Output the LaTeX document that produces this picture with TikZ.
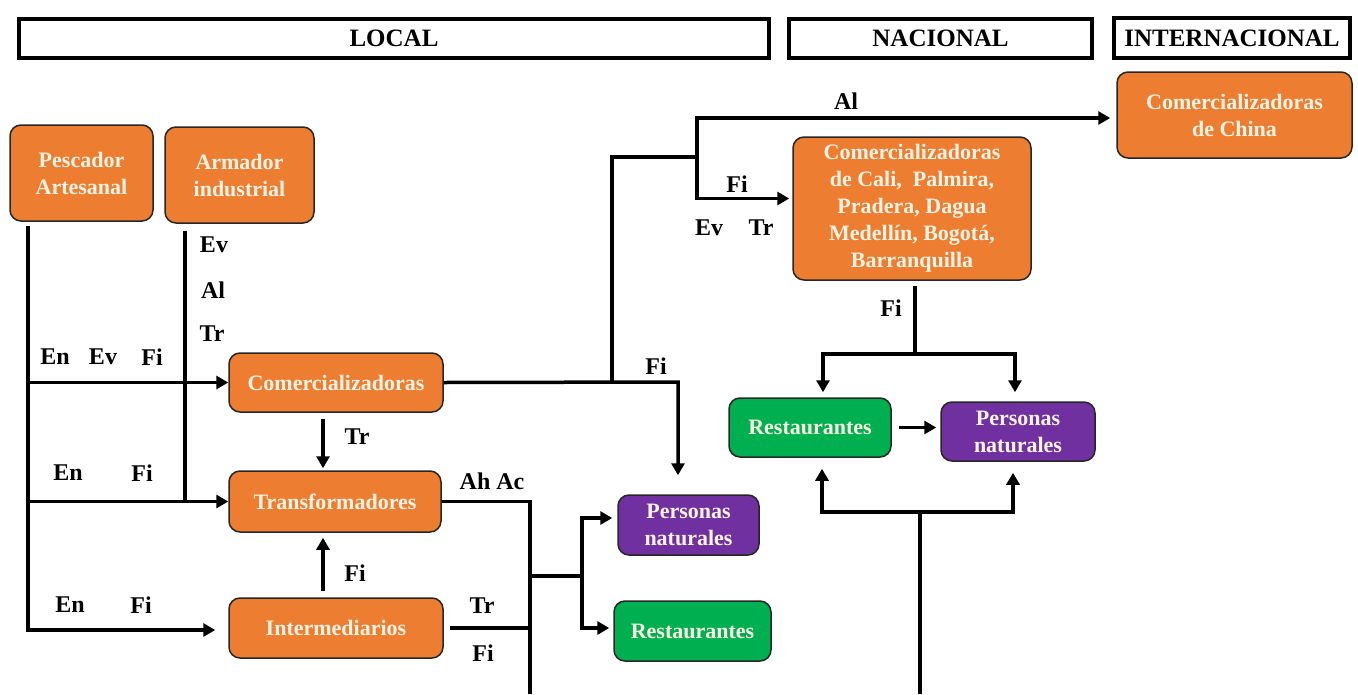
\documentclass[tikz,border=0pt]{standalone}
\usepackage{fontspec}
\setmainfont{Liberation Serif}
\usetikzlibrary{arrows.meta,calc}
\definecolor{org}{HTML}{ED7D31}
\definecolor{pur}{HTML}{7030A0}
\definecolor{grn}{HTML}{00B050}
\definecolor{txt}{HTML}{FBF4E4}
\begin{document}
\begin{tikzpicture}[x=1pt,y=-1pt,
  box/.style={draw=black!85, line width=1.5pt, rounded corners=11pt, text=txt,
    font=\fontsize{22}{27}\selectfont\bfseries, align=center, inner sep=0pt},
  hdr/.style={draw, line width=4pt, font=\fontsize{25}{28}\selectfont\bfseries, inner sep=0pt},
  lbl/.style={font=\fontsize{24}{26}\selectfont\bfseries, inner sep=0pt},
  con/.style={line width=3.5pt},
  arr/.style={con, -{Triangle[length=12pt,width=13pt]}},
]
\useasboundingbox (0,0) rectangle (1358,694);
% headers
\node[hdr, minimum width=750, minimum height=39] (hlocal) at (394,38.5) {LOCAL};
\node[hdr, minimum width=303, minimum height=39] (hnac) at (940.5,38.5) {NACIONAL};
\node[hdr, minimum width=236, minimum height=40] (hint) at (1232,38) {INTERNACIONAL};
% nodes
\node[box, fill=org, minimum width=143, minimum height=96] (pesc) at (81.5,173) {Pescador\\Artesanal};
\node[box, fill=org, minimum width=149, minimum height=96] (arm) at (239.5,175) {Armador\\industrial};
\node[box, fill=org, minimum width=214, minimum height=59] (com) at (336,382.5) {Comercializadoras};
\node[box, fill=org, minimum width=212, minimum height=61] (trans) at (335,501.5) {Transformadores};
\node[box, fill=org, minimum width=214, minimum height=60] (inter) at (336,628) {Intermediarios};
\node[box, fill=pur, minimum width=141, minimum height=60] (perL) at (688.5,525) {Personas\\naturales};
\node[box, fill=grn, minimum width=157, minimum height=60] (restL) at (692.5,631) {Restaurantes};
\node[box, fill=org, minimum width=238, minimum height=143] (cali) at (912,208.5) {Comercializadoras\\de Cali,\ \ Palmira,\\Pradera, Dagua\\Medellín,\ Bogotá,\\Barranquilla};
\node[box, fill=org, minimum width=235, minimum height=86] (china) at (1234.5,115) {Comercializadoras\\de China};
\node[box, fill=grn, minimum width=162, minimum height=59] (restN) at (810,427.5) {Restaurantes};
\node[box, fill=pur, minimum width=154, minimum height=59] (perN) at (1018,431.5) {Personas\\naturales};
% coordinates
\coordinate (pX) at (28,0);
\coordinate (aX) at (185,0);
\coordinate (vX) at (323,0);
\coordinate (jX) at (530,0);
\coordinate (j2) at (530,576);
\coordinate (j3) at (582,576);
\coordinate (bot1) at (530,694);
\coordinate (c1) at (612,382);
\coordinate (c2) at (678,382);
\coordinate (c3) at (697,157);
\coordinate (n1) at (915,354);
\coordinate (n2) at (920,512);
\coordinate (bot2) at (920,694);
% Pescador
\draw[arr] ($(pesc.south -| pX)+(0,4)$) |- ($(inter.west)+(-13,2)$);
\draw[arr] (com.west -| pX) -- (com.west);
\draw[arr] (trans.west -| pX) -- (trans.west);
% Armador
\draw[con] ($(arm.south -| aX)+(0,7)$) -- (trans.west -| aX);
% vertical between boxes
\draw[arr] ($(com.south -| vX)+(0,6)$) -- ($(trans.north -| vX)+(0,-2)$);
\draw[arr] ($(inter.north -| vX)+(0,-6)$) -- ($(trans.south -| vX)+(0,5)$);
% right side local
\draw[con] (trans.east) -- (trans.east -| jX) -- (bot1);
\draw[con] ($(inter.east)+(6,0)$) -- (inter.east -| jX);
\draw[con] (j2) -- (j3);
\draw[arr] (j3) |- ($(perL.west)+(-5,-7)$);
\draw[arr] (j3) |- ($(restL.west)+(-4,-3)$);
% comercializadoras outputs
\draw[arr] (com.east) -- (c2) -- ($(perL.north -| c2)+(0,-19)$);
\draw[con] (c1) |- (c3);
\draw[arr] (c3) |- ($(china.west)+(-6,3)$);
\draw[arr] (c3) |- ($(cali.west)+(-3,-10)$);
% nacional
\draw[con] ($(cali.south -| n1)+(0,5)$) -- (n1);
\draw[arr] (n1) -| ($(restN.north)+(13,-5)$);
\draw[arr] (n1) -| ($(perN.north)+(-3,-9)$);
\draw[arr] ($(restN.east)+(7,0)$) -- ($(restN.east -| perN.west)+(-4,0)$);
\draw[con] (bot2) -- (n2);
\draw[arr] (n2) -| ($(restN.south)+(12,11)$);
\draw[arr] (n2) -| ($(perN.south)+(-5,11)$);
% labels
\node[lbl] (l1) at (55,357) {En};
\node[lbl] (l2) at (103,357) {Ev};
\node[lbl] (l3) at (152,357) {Fi};
\node[lbl] (l4) at (68,473) {En};
\node[lbl] (l5) at (142,473) {Fi};
\node[lbl] (l6) at (70,605) {En};
\node[lbl] (l7) at (141,605) {Fi};
\node[lbl] (l8) at (214,245) {Ev};
\node[lbl] (l9) at (213,290) {Al};
\node[lbl] (l10) at (212,334) {Tr};
\node[lbl] (l11) at (357,437) {Tr};
\node[lbl] (l12) at (355,573) {Fi};
\node[lbl] (l13) at (492,481) {Ah\ Ac};
\node[lbl] (l14) at (482,606) {Tr};
\node[lbl] (l15) at (483,653) {Fi};
\node[lbl] (l16) at (656,366) {Fi};
\node[lbl] (l17) at (846,101) {Al};
\node[lbl] (l18) at (737,184) {Fi};
\node[lbl] (l19) at (709,228) {Ev};
\node[lbl] (l20) at (761,228) {Tr};
\node[lbl] (l21) at (891,308) {Fi};
\end{tikzpicture}
\end{document}
